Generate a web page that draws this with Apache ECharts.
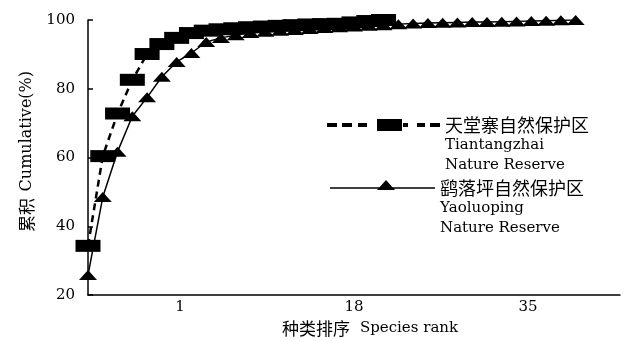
<!DOCTYPE html>
<html>
<head>
<meta charset="utf-8">
<script src="https://cdn.jsdelivr.net/npm/echarts@6/dist/echarts.min.js"></script>
<style>
  html, body { margin: 0; padding: 0; background: #fff; }
  #chart { width: 630px; height: 341px; }
</style>
</head>
<body>
<div id="chart"></div>
<script>
// Species rank categories used to place the points
const rankCategories = [1, 2, 3, 4, 5, 6, 7, 8, 9, 10, 11, 12, 13, 14, 15, 16, 17, 18, 19,
  20, 21, 22, 23, 24, 25, 26, 27, 28, 29, 30, 31, 32, 33, 34, 35, 36, 37];

// Rank labels shown under the axis
const tickLabels = [1, 18, 35];

// Cumulative abundance (%) by species rank
const tiantangzhai = [34.3, 60.4, 72.8, 82.6, 90.1, 93.0, 94.8, 96.2, 96.9, 97.3, 97.6,
  97.9, 98.1, 98.3, 98.5, 98.7, 98.8, 98.9, 99.3, 99.7, 100];
const yaoluoping = [25.8, 48.5, 61.7, 72.0, 77.5, 83.5, 87.8, 90.4, 93.6, 94.8, 95.6,
  96.2, 96.6, 96.9, 97.1, 97.4, 97.7, 97.9, 98.1, 98.3, 98.5, 98.8, 99.0, 99.1, 99.2,
  99.3, 99.4, 99.4, 99.5, 99.6, 99.7, 99.8, 99.9, 100];

const seriesNames = ['天堂寨自然保护区', '鹞落坪自然保护区'];
const seriesNamesEn = [['Tiantangzhai', 'Nature Reserve'], ['Yaoluoping', 'Nature Reserve']];

const serif = 'DejaVu Serif';
const cjk = 'Noto Sans CJK SC';

const legendRich = {
  cn: { fontFamily: cjk, fontSize: 18, lineHeight: 20, color: '#000' },
  en: { fontFamily: serif, fontSize: 15, lineHeight: 20, color: '#000' }
};

function legendText(idx) {
  return '{cn|' + seriesNames[idx] + '}\n{en|' + seriesNamesEn[idx][0] + '}\n{en|' + seriesNamesEn[idx][1] + '}';
}

// Legend keys: dashed line with a block marker, solid line with a triangle
const dashedKey = 'path://M0,4h10v4h-10z M15,4h10v4h-10z M31,4h9v4h-9z M50,0h25v12h-25z M76,4h5v4h-5z M90,4h8v4h-8z M103,4h10v4h-10z';
const solidKey = 'path://M0,7.2h105v1.6h-105z M47,10L56,0L65,10z M0,16h0.01v-0.01h-0.01z';

const chart = echarts.init(document.getElementById('chart'));

const option = {
  animation: false,
  backgroundColor: '#fff',
  grid: { left: 88, right: 10, top: 20, bottom: 46, outerBoundsMode: 'none' },
  xAxis: [
    {
      type: 'category',
      data: rankCategories,
      boundaryGap: false,
      position: 'bottom',
      axisLine: { show: true, onZero: false, lineStyle: { color: '#000', width: 1.5 } },
      axisTick: { show: false },
      axisLabel: { show: false },
      splitLine: { show: false }
    },
    {
      type: 'value',
      min: -8,
      max: 44,
      position: 'bottom',
      axisLine: { show: false, onZero: false },
      axisTick: { show: false },
      splitLine: { show: false },
      axisLabel: {
        customValues: tickLabels,
        color: '#000',
        fontFamily: serif,
        fontSize: 15,
        margin: 5
      },
      name: '{cn|种类排序}   {en|Species rank}',
      nameLocation: 'middle',
      nameGap: 22,
      nameTextStyle: {
        padding: [0, 0, 0, 32],
        rich: {
          cn: { fontFamily: cjk, fontSize: 17, color: '#000' },
          en: { fontFamily: serif, fontSize: 15, color: '#000' }
        }
      }
    }
  ],
  yAxis: {
    type: 'value',
    min: 20,
    max: 100,
    interval: 20,
    axisLine: { show: true, onZero: false, lineStyle: { color: '#000', width: 1.5 } },
    axisTick: { show: true, inside: true, length: 5, lineStyle: { color: '#000', width: 1.5 } },
    axisLabel: { color: '#000', fontFamily: serif, fontSize: 15, margin: 13 },
    splitLine: { show: false },
    name: '{cn|累积}  {en|Cumulative(%)}',
    nameLocation: 'middle',
    nameGap: 46,
    nameRotate: 90,
    nameTextStyle: {
      padding: [0, 0, 0, 12],
      rich: {
        cn: { fontFamily: cjk, fontSize: 17, color: '#000' },
        en: { fontFamily: serif, fontSize: 16, color: '#000' }
      }
    }
  },
  legend: [
    {
      left: 327,
      top: 75,
      padding: 0,
      orient: 'vertical',
      selectedMode: false,
      itemWidth: 113,
      itemHeight: 12,
      data: [{ name: seriesNames[0], icon: dashedKey }],
      formatter: () => legendText(0),
      textStyle: { lineHeight: 20, padding: [40, 0, 0, 0], rich: legendRich }
    },
    {
      left: 330,
      top: 138,
      padding: 0,
      orient: 'vertical',
      selectedMode: false,
      itemWidth: 105,
      itemHeight: 16,
      data: [{ name: seriesNames[1], icon: solidKey }],
      formatter: () => legendText(1),
      textStyle: { lineHeight: 20, padding: [40, 0, 0, 0], rich: legendRich }
    }
  ],
  series: [
    {
      name: seriesNames[1],
      type: 'line',
      xAxisIndex: 0,
      data: yaoluoping,
      symbol: 'triangle',
      symbolSize: [18, 10],
      showSymbol: true,
      showAllSymbol: true,
      itemStyle: { color: '#000' },
      lineStyle: { color: '#000', width: 1.5 }
    },
    {
      name: seriesNames[0],
      type: 'line',
      xAxisIndex: 0,
      data: tiantangzhai,
      symbol: 'rect',
      symbolSize: [25, 12],
      showSymbol: true,
      showAllSymbol: true,
      itemStyle: { color: '#000' },
      lineStyle: { color: '#000', width: 2.5, type: [7, 5] }
    }
  ]
};

chart.setOption(option);
</script>
</body>
</html>
